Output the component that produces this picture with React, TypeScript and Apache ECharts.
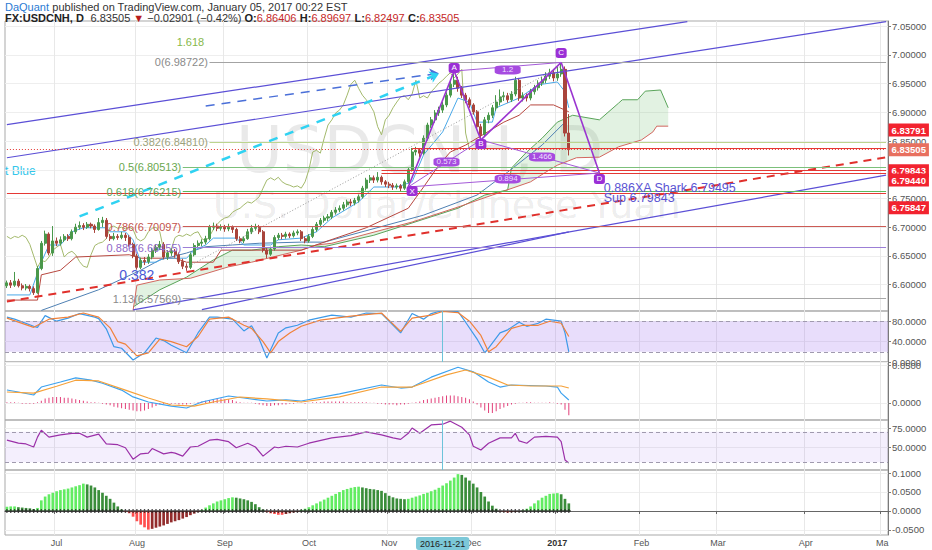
import React, { useEffect, useRef } from 'react';
import * as echarts from 'echarts';

// ---------------- categories (trading days) ----------------
const FIRST_TRADING_DAY = '2016-06-14';
const TRADING_DAY_COUNT = 231;
const CROSSHAIR_INDEX = 114; // 2016-11-21

function buildTradingDays(): string[] {
  const out: string[] = [];
  const d = new Date(FIRST_TRADING_DAY + 'T00:00:00Z');
  while (out.length < TRADING_DAY_COUNT) {
    const wd = d.getUTCDay();
    if (wd !== 0 && wd !== 6) out.push(d.toISOString().slice(0, 10));
    d.setUTCDate(d.getUTCDate() + 1);
  }
  return out;
}
const CATEGORIES = buildTradingDays();

const MONTH_TICK_INDEX = [13, 34, 57, 79, 100, 122, 144, 166, 186, 209, 229];
const MONTH_TICK_TEXT = ['Jul', 'Aug', 'Sep', 'Oct', 'Nov', 'Dec', '2017', 'Feb', 'Mar', 'Apr', 'Ma'];

const PRICE_TICKS = [6.6, 6.65, 6.7, 6.75, 6.8, 6.85, 6.9, 6.95, 7.0, 7.05];
const STOCH_TICKS = [0, 40, 80];
const MACD_TICKS = [0, 0.05];
const RSI_TICKS = [50, 75];
const MOM_TICKS = [-0.05, 0, 0.05, 0.1];

// ---------------- price data [open, close, low, high] ----------------
const OHLC: number[][] = [
[6.598,6.603,6.594,6.607],[6.603,6.599,6.594,6.608],[6.599,6.606,6.596,6.622],[6.606,6.598,6.595,6.610],[6.598,6.594,6.590,6.602],
[6.594,6.597,6.590,6.601],[6.597,6.593,6.588,6.600],[6.593,6.586,6.582,6.597],[6.586,6.628,6.584,6.632],[6.628,6.672,6.625,6.676],
[6.672,6.688,6.668,6.694],[6.688,6.655,6.651,6.691],[6.655,6.676,6.650,6.702],[6.676,6.672,6.667,6.682],[6.672,6.678,6.668,6.684],
[6.678,6.684,6.674,6.688],[6.684,6.680,6.676,6.688],[6.680,6.692,6.677,6.696],[6.692,6.700,6.688,6.706],[6.700,6.703,6.696,6.710],
[6.703,6.700,6.695,6.707],[6.700,6.705,6.697,6.709],[6.705,6.702,6.698,6.708],[6.702,6.696,6.690,6.705],[6.696,6.708,6.694,6.716],
[6.708,6.712,6.700,6.718],[6.712,6.684,6.680,6.716],[6.684,6.680,6.676,6.688],[6.680,6.684,6.677,6.690],[6.684,6.682,6.678,6.688],
[6.682,6.686,6.679,6.692],[6.686,6.682,6.676,6.690],[6.682,6.670,6.666,6.686],[6.670,6.650,6.646,6.673],[6.650,6.630,6.626,6.654],
[6.630,6.642,6.627,6.647],[6.642,6.640,6.634,6.648],[6.640,6.648,6.636,6.653],[6.648,6.660,6.644,6.664],[6.660,6.665,6.655,6.670],
[6.665,6.670,6.660,6.676],[6.670,6.648,6.644,6.674],[6.648,6.655,6.643,6.660],[6.655,6.658,6.650,6.663],[6.658,6.652,6.647,6.662],
[6.652,6.640,6.636,6.656],[6.640,6.632,6.627,6.645],[6.632,6.630,6.624,6.637],[6.630,6.652,6.627,6.656],[6.652,6.668,6.649,6.672],
[6.668,6.672,6.664,6.677],[6.672,6.674,6.667,6.679],[6.674,6.680,6.670,6.685],[6.680,6.700,6.677,6.704],[6.700,6.702,6.695,6.708],
[6.702,6.698,6.693,6.706],[6.698,6.700,6.694,6.705],[6.700,6.697,6.692,6.704],[6.697,6.700,6.693,6.706],[6.700,6.696,6.690,6.703],
[6.696,6.680,6.676,6.699],[6.680,6.676,6.672,6.684],[6.676,6.680,6.672,6.684],[6.680,6.692,6.678,6.697],[6.692,6.698,6.688,6.704],
[6.698,6.700,6.694,6.706],[6.700,6.692,6.688,6.704],[6.692,6.660,6.656,6.695],[6.660,6.653,6.646,6.664],[6.653,6.662,6.650,6.666],
[6.662,6.682,6.659,6.686],[6.682,6.686,6.678,6.690],[6.686,6.684,6.679,6.690],[6.684,6.688,6.680,6.692],[6.688,6.685,6.681,6.691],
[6.685,6.690,6.682,6.694],[6.690,6.692,6.686,6.696],[6.692,6.680,6.676,6.695],[6.680,6.676,6.672,6.684],[6.676,6.684,6.673,6.688],
[6.684,6.696,6.681,6.700],[6.696,6.705,6.692,6.709],[6.705,6.712,6.701,6.716],[6.712,6.716,6.708,6.720],[6.716,6.718,6.711,6.723],
[6.718,6.726,6.714,6.730],[6.726,6.730,6.722,6.735],[6.730,6.733,6.726,6.738],[6.733,6.739,6.729,6.744],[6.739,6.744,6.735,6.748],
[6.744,6.742,6.737,6.749],[6.742,6.747,6.738,6.751],[6.747,6.753,6.743,6.757],[6.753,6.768,6.750,6.772],[6.768,6.782,6.764,6.786],
[6.782,6.786,6.777,6.791],[6.786,6.782,6.777,6.790],[6.782,6.787,6.778,6.796],[6.787,6.779,6.774,6.790],[6.779,6.775,6.770,6.782],
[6.775,6.773,6.768,6.779],[6.773,6.770,6.765,6.777],[6.770,6.772,6.766,6.776],[6.772,6.768,6.762,6.775],[6.768,6.779,6.765,6.783],
[6.779,6.800,6.776,6.804],[6.800,6.831,6.797,6.838],[6.831,6.834,6.825,6.840],[6.834,6.829,6.822,6.838],[6.829,6.855,6.826,6.860],
[6.855,6.878,6.851,6.882],[6.878,6.887,6.873,6.892],[6.887,6.899,6.882,6.904],[6.899,6.904,6.894,6.910],[6.904,6.913,6.899,6.918],
[6.913,6.930,6.909,6.935],[6.930,6.949,6.926,6.955],[6.949,6.956,6.944,6.968],[6.956,6.942,6.936,6.962],[6.942,6.930,6.925,6.946],
[6.930,6.922,6.916,6.934],[6.922,6.913,6.908,6.926],[6.913,6.901,6.896,6.916],[6.901,6.875,6.870,6.904],[6.875,6.861,6.853,6.880],
[6.861,6.887,6.857,6.892],[6.887,6.895,6.881,6.900],[6.895,6.908,6.890,6.913],[6.908,6.918,6.903,6.930],[6.918,6.927,6.912,6.940],
[6.927,6.929,6.920,6.936],[6.929,6.922,6.917,6.934],[6.922,6.932,6.918,6.937],[6.932,6.956,6.928,6.962],[6.956,6.925,6.920,6.960],
[6.925,6.929,6.919,6.935],[6.929,6.925,6.919,6.933],[6.925,6.936,6.921,6.941],[6.936,6.943,6.931,6.948],[6.943,6.951,6.938,6.956],
[6.951,6.956,6.946,6.962],[6.956,6.963,6.951,6.970],[6.963,6.969,6.958,6.976],[6.969,6.960,6.954,6.975],[6.960,6.967,6.955,6.980],
[6.967,6.975,6.962,6.987],[6.975,6.864,6.858,6.980],[6.86406,6.83505,6.82497,6.89697],
];

// ---------------- overlays on price pane: [barIndex, price] ----------------
const TENKAN = [[0,6.582],[6,6.582],[9,6.639],[11,6.669],[14,6.669],[17,6.692],[20,6.699],[26,6.699],[27,6.692],[31,6.692],[33,6.678],[35,6.639],[39,6.639],[41,6.646],[47,6.646],[49,6.660],[52,6.669],[54,6.681],[60,6.681],[62,6.669],[69,6.669],[71,6.678],[77,6.681],[81,6.692],[85,6.716],[92,6.744],[96,6.770],[102,6.770],[106,6.779],[109,6.826],[114,6.866],[118,6.925],[121,6.918],[123,6.883],[127,6.883],[128,6.908],[134,6.925],[139,6.948],[144,6.953],[146,6.936],[147,6.908]];
const KIJUN = [[0,6.573],[8,6.573],[9,6.617],[14,6.625],[18,6.648],[32,6.652],[35,6.646],[44,6.646],[47,6.639],[54,6.639],[56,6.660],[77,6.660],[83,6.674],[94,6.699],[105,6.733],[109,6.770],[113,6.808],[116,6.831],[120,6.843],[123,6.855],[130,6.883],[134,6.895],[137,6.913],[143,6.913],[147,6.901]];
const SENKOU_A = [[33,6.561],[40,6.591],[47,6.613],[54,6.643],[59,6.660],[64,6.660],[71,6.666],[77,6.669],[83,6.666],[96,6.686],[118,6.733],[125,6.756],[131,6.765],[132,6.803],[136,6.831],[140,6.855],[144,6.883],[148,6.895],[155,6.887],[160,6.916],[161,6.922],[165,6.922],[167,6.937],[171,6.939],[173,6.908]];
const SENKOU_B = [[33,6.555],[34,6.599],[40,6.608],[48,6.611],[58,6.631],[64,6.639],[72,6.652],[77,6.660],[81,6.669],[85,6.672],[106,6.709],[118,6.735],[127,6.756],[137,6.779],[141,6.796],[144,6.808],[149,6.821],[155,6.822],[160,6.840],[166,6.852],[169,6.866],[170,6.876],[173,6.876]];
const MA_LINE = [[9,6.555],[24,6.591],[35,6.625],[40,6.643],[47,6.655],[52,6.666],[59,6.669],[66,6.672],[77,6.674],[83,6.674],[109,6.721],[123,6.756],[131,6.796],[140,6.843],[146,6.883]];
const CHIKOU_SHIFT = 26;

// ---------------- indicator panes: [barIndex, value] ----------------
const STOCH_K = [[0,88],[2,84],[7,70],[8,68],[10,91],[13,80],[16,86],[19,95],[23,88],[24,85],[26,65],[28,30],[30,27],[33,4],[36,18],[39,47],[41,42],[43,33],[47,18],[50,57],[53,88],[55,88],[59,84],[62,61],[64,71],[66,45],[68,8],[71,57],[73,67],[76,72],[79,82],[85,92],[90,88],[94,96],[98,95],[103,57],[106,95],[109,84],[111,95],[113,99],[118,99],[120,78],[123,45],[125,18],[126,27],[129,57],[131,63],[134,78],[136,70],[139,76],[141,84],[145,80],[146,57],[147,20]];
const STOCH_D = [[0,86],[7,68],[11,84],[16,88],[20,96],[24,88],[27,67],[29,40],[31,35],[34,12],[37,18],[40,45],[43,40],[47,30],[50,50],[53,84],[58,88],[62,72],[64,66],[67,40],[69,18],[71,40],[74,57],[77,70],[82,82],[90,90],[98,96],[103,60],[106,86],[111,92],[114,99],[118,97],[121,80],[124,52],[126,20],[128,30],[132,66],[135,72],[139,72],[142,80],[145,76],[147,50]];
const MACD_LINE = [[0,0.0171],[3,0.0145],[7,0.0105],[9,0.021],[14,0.0276],[18,0.033],[22,0.030],[25,0.026],[30,0.017],[33,0.008],[37,0.0013],[43,-0.004],[47,-0.0066],[51,0.0013],[58,0.0092],[62,0.0066],[68,0.0026],[73,0.004],[77,0.0026],[87,0.012],[98,0.0237],[103,0.0197],[106,0.021],[111,0.034],[118,0.047],[122,0.041],[126,0.0276],[129,0.021],[132,0.0237],[141,0.0224],[144,0.021],[145,0.013],[147,0.004]];
const MACD_SIGNAL = [[0,0.0145],[7,0.013],[13,0.022],[18,0.030],[24,0.029],[31,0.017],[37,0.0066],[43,-0.0026],[49,-0.004],[54,0.0013],[61,0.0079],[68,0.0053],[77,0.0013],[87,0.008],[98,0.021],[106,0.021],[115,0.037],[120,0.0434],[126,0.034],[131,0.0237],[137,0.0224],[145,0.0224],[147,0.0197]];
const MACD_HIST_MILLI = [1,1,1,0.3,-1,-1,-1,-1,1,3, 6,7,8,8,8,7,7,6,5,4, 3,2,1,1,0.3,-1,-2,-3,-5,-6, -7,-8,-9,-10,-11,-11,-10,-8,-6,-4, -2,-1,-1,-1,-1,-2,-2,-2,-1,0.3, 1,2,3,4,5,6,6,5,5,4, 2,1,0.3,0.3,0.3,-1,-2,-3,-4,-4, -3,-3,-2,-2,-1,-1,0.3,0.3,-1,0.3, 1,1,1,2,2,2,2,2,2,1, 1,1,1,1,1,0.3,0.3,-1,-1,-2, -2,-2,-3,-2,-2,-1,0.3,1,2,4, 5,6,7,8,9,10,10,10,9,8, 7,5,2,-2,-6,-10,-13,-13,-11,-8, -6,-4,-2,-1,0.3,0.3,1,1,0.3,0.3, 0.3,0.3,1,0.3,-1,-2,-9,-16];
const RSI_LINE = [[0,59],[3,55],[5,54],[7,50],[8,63],[9,72],[11,63],[14,66],[17,68],[19,68],[21,63],[24,67],[26,54],[29,53],[31,49],[33,34],[35,41],[37,42],[38,48],[41,41],[43,43],[44,42],[46,38],[48,50],[50,51],[53,59],[55,60],[58,57],[60,49],[63,55],[65,50],[67,38],[70,50],[71,49],[73,51],[76,50],[79,55],[85,62],[90,65],[94,70],[98,66],[101,62],[103,60],[105,68],[106,75],[108,68],[111,79],[114,80],[116,84],[119,76],[121,66],[122,51],[124,46],[126,55],[129,62],[132,62],[133,68],[134,58],[136,55],[138,63],[141,64],[144,63],[145,57],[146,33],[147,29]];
const MOMENTUM_MILLI = [11,12,12,10,9,8,7,5,8,28, 38,44,48,52,55,57,59,62,65,68, 72,70,67,62,55,48,40,32,22,12, 4,-2,-6,-15,-27,-36,-43,-49,-47,-44, -41,-38,-34,-30,-27,-24,-20,-16,-11,-7, -3,3,9,15,20,25,28,31,34,36, 35,33,31,28,24,18,10,4,-3,-6, -8,-10,-10,-8,-6,-4,-2,3,6,10, 15,20,25,30,35,40,45,50,55,58, 61,63,64,62,60,58,57,55,53,47, 40,36,33,32,31,32,35,38,41,45, 48,52,56,61,67,73,80,88,97,95, 88,80,72,62,50,38,25,14,6,-1, -2,-4,-3,-2,-1,2,6,12,20,28, 35,40,45,46,47,44,32,20];

// ---------------- drawings (data space) ----------------
const CHANNEL_LINES = [[0,6.8786,178,7.058],[0,6.821,230,7.058],[33,6.556,230,6.7906],[51,6.5565,147,6.6918]];
const RED_TREND = [0,6.5704,230,6.8218];
const CYAN_ARROW = [19,6.7188,113,6.9671];
const BLUE_ARROW = [52,6.9111,113,6.9681];
const DOTTED_TREND = [47,6.6301,145,6.9805];
const FIB_RATIOS = ['0', '0.382', '0.5', '0.618', '0.786', '0.886', '1.13'];
const FIB_PRICES = [6.98722, 6.84810, 6.80513, 6.76215, 6.70097, 6.66455, 6.57569];
const FIB_START = [53, 53, 46, 46, 46, 46, 46];
const FIB_LINE_COLORS = ['#a3a3a3', '#bcd48e', '#7cc07a', '#5cb85c', '#cc5b55', '#9c7fd6', '#a8a8a8'];
const FIB_TEXT_COLORS = ['#8a8a8a', '#9ca27c', '#6aa84f', '#5aa75a', '#c4534c', '#9068c8', '#8a8a8a'];
const LEVEL_PRICES = [6.83791, 6.83505, 6.79843, 6.79440, 6.75847];
const LEVEL_START = [106, 0, 98, 98, 0];
const LEVEL_TAG_SHIFT = [-18, 0, 0, 7, 14];
const PATTERN_POINTS: Record<string, number[]> = { X: [105, 6.770], A: [117, 6.972], B: [124, 6.852], C: [145, 6.987], D: [155, 6.7944] };
const PATTERN_TAGS: [string, number, number][] = [['X',106,6.763],['A',117,6.9774],['B',124,6.845],['C',145,7.0035],['D',155,6.784]];
const RATIO_TAGS: [string, number, number][] = [['0.573',115,6.8136],['1.2',131,6.9739],['1.466',140,6.8223],['0.894',131,6.784]];

const MONTH_SET = new Set(MONTH_TICK_INDEX);
const FONT = 'Liberation Sans';

function yAxis(k: number, min: number, max: number, ticks: number[], digits: number) {
  return {
    type: 'value', gridIndex: k, position: 'right', min, max,
    axisLine: { show: true, lineStyle: { color: '#7a7a7a' } },
    axisTick: { show: true, length: 3, customValues: ticks, lineStyle: { color: '#7a7a7a' } },
    axisLabel: { show: true, customValues: ticks, formatter: (v: number) => v.toFixed(digits), fontSize: 9.5, color: '#555', margin: 4, fontFamily: FONT },
    splitLine: { show: true, lineStyle: { color: '#eeeeee' } },
  };
}

function seg(a: number[], b: number[], lineStyle: any, endSymbol?: string) {
  return [
    { coord: a, lineStyle, symbol: 'none' },
    { coord: b, symbol: endSymbol || 'none', symbolSize: endSymbol ? 9 : 0 },
  ];
}

function textPoint(i: number, p: number, text: string, label: any) {
  return {
    coord: [i, p], symbol: 'rect', symbolSize: 1, itemStyle: { color: 'rgba(0,0,0,0)' },
    label: { show: true, formatter: text, fontFamily: FONT, ...label },
  };
}

function buildOption() {
  const gridBase = { left: 5, right: 44, show: true, borderColor: '#a9a9a9', borderWidth: 1, containLabel: false, outerBoundsMode: 'none' };
  const grids = [
    { ...gridBase, top: 21, height: 290 },
    { ...gridBase, top: 311, height: 51 },
    { ...gridBase, top: 362, height: 58 },
    { ...gridBase, top: 420, height: 50 },
    { ...gridBase, top: 470, height: 65 },
  ];
  const isMonth = (i: number) => MONTH_SET.has(i);
  const xAxes = grids.map((_, k) => ({
    type: 'category', gridIndex: k, data: CATEGORIES, boundaryGap: true,
    axisLine: { show: k === 4, lineStyle: { color: '#666' } },
    axisTick: { show: k === 4, interval: isMonth, length: 3, lineStyle: { color: '#666' } },
    axisLabel: {
      show: k === 4, interval: isMonth, fontSize: 9, color: '#555', margin: 3, fontFamily: FONT,
      formatter: (_v: string, i: number) => {
        const t = MONTH_TICK_TEXT[MONTH_TICK_INDEX.indexOf(i)] || '';
        return t === '2017' ? '{b|2017}' : t;
      },
      rich: { b: { fontWeight: 'bold', fontSize: 9, color: '#333', fontFamily: FONT } },
    },
    splitLine: { show: true, interval: isMonth, lineStyle: { color: '#e8e8e8' } },
    axisPointer: k === 4 ? {
      show: true, type: 'line', value: CROSSHAIR_INDEX, status: 'show', triggerTooltip: false, triggerOn: 'none',
      lineStyle: { color: '#5bc0de', width: 1, opacity: 0 },
      label: { show: true, backgroundColor: '#7cc8d8', color: '#222', fontSize: 9, padding: [2, 4], margin: 2, fontFamily: FONT, formatter: () => CATEGORIES[CROSSHAIR_INDEX] },
      handle: { show: false },
    } : { show: false },
  }));
  const yAxes = [
    yAxis(0, 6.554, 7.0592, PRICE_TICKS, 5),
    yAxis(1, 0, 100, STOCH_TICKS, 4),
    yAxis(2, -0.02237, 0.05395, MACD_TICKS, 4),
    yAxis(3, 19.74, 85.53, RSI_TICKS, 4),
    yAxis(4, -0.0632, 0.1079, MOM_TICKS, 4),
  ];

  // ---- markLines on the price pane ----
  const channelStyle = { color: '#5b4fd6', width: 1.2, type: 'solid' };
  const lines: any[] = [];
  CHANNEL_LINES.forEach((l) => lines.push(seg([l[0], l[1]], [l[2], l[3]], channelStyle)));
  lines.push(seg([RED_TREND[0], RED_TREND[1]], [RED_TREND[2], RED_TREND[3]], { color: '#e0302c', width: 2, type: [8, 6] }));
  lines.push(seg([DOTTED_TREND[0], DOTTED_TREND[1]], [DOTTED_TREND[2], DOTTED_TREND[3]], { color: '#9a9a9a', width: 1, type: [1, 2] }));
  lines.push(seg([BLUE_ARROW[0], BLUE_ARROW[1]], [BLUE_ARROW[2], BLUE_ARROW[3]], { color: '#4a6fd8', width: 1.5, type: [9, 7] }, 'arrow'));
  lines.push(seg([CYAN_ARROW[0], CYAN_ARROW[1]], [CYAN_ARROW[2], CYAN_ARROW[3]], { color: '#2fd2f2', width: 2.5, type: [9, 8] }, 'arrow'));
  FIB_PRICES.forEach((p, k) => lines.push(seg([FIB_START[k], p], [230, p], { color: FIB_LINE_COLORS[k], width: 1, type: 'solid' })));
  LEVEL_PRICES.forEach((p, k) => lines.push(seg([LEVEL_START[k], p], [230, p], { color: '#e53935', width: 1, type: k === 1 ? [1, 2] : 'solid' })));
  const P = PATTERN_POINTS;
  const legStyle = { color: '#9a34d0', width: 1.6, type: 'solid' };
  const diagStyle = { color: '#a45ad8', width: 1, type: 'solid' };
  [['X','A'],['A','B'],['B','C'],['C','D']].forEach(([a, b]) => lines.push(seg(P[a], P[b], legStyle)));
  [['X','B'],['A','C'],['B','D'],['X','D']].forEach(([a, b]) => lines.push(seg(P[a], P[b], diagStyle)));

  // ---- markPoints (texts) ----
  const points: any[] = [];
  FIB_PRICES.forEach((p, k) => points.push(textPoint(FIB_START[k], p, `${FIB_RATIOS[k]}(${p.toFixed(5)})`, { position: 'left', distance: 1, color: FIB_TEXT_COLORS[k], fontSize: 11 })));
  points.push(textPoint(48, 7.0226, '1.618', { position: 'inside', color: '#86b84a', fontSize: 11 }));
  points.push(textPoint(34, 6.6167, '0.382', { position: 'inside', color: '#4b58d6', fontSize: 14 }));
  points.push(textPoint(156, 6.7683, '0.886XA Shark 6.79495', { position: 'right', distance: 0, color: '#5a53d3', fontSize: 12.5 }));
  points.push(textPoint(156, 6.7509, 'Sup 6.79843', { position: 'right', distance: 0, color: '#5a53d3', fontSize: 12.5 }));
  LEVEL_PRICES.forEach((p, k) => points.push(textPoint(230, p, p.toFixed(5), {
    position: 'right', distance: 2, color: '#fff', backgroundColor: k === 1 ? '#e8705f' : '#f2232f',
    padding: [2, 3, 1, 3], fontSize: 9.5, fontWeight: 'bold', offset: [0, LEVEL_TAG_SHIFT[k]],
  })));
  PATTERN_TAGS.forEach(([t, i, p]) => points.push({
    coord: [i, p], symbol: 'roundRect', symbolSize: [11, 10], itemStyle: { color: '#9b2fd6' },
    label: { show: true, position: 'inside', formatter: t, color: '#fff', fontSize: 8, fontFamily: FONT },
  }));
  RATIO_TAGS.forEach(([t, i, p]) => points.push({
    coord: [i, p], symbol: 'roundRect', symbolSize: [26, 9], itemStyle: { color: '#a64be0' },
    label: { show: true, position: 'inside', formatter: t, color: '#efe0ff', fontSize: 8, fontFamily: FONT },
  }));

  const chikou = OHLC.map((d, i) => [i - CHIKOU_SHIFT, d[1]]).filter((d) => d[0] >= 0);
  const lineS = (data: any, color: string, x: number, width = 1, extra: any = {}) => ({
    type: 'line', xAxisIndex: x, yAxisIndex: x, data, symbol: 'none', showSymbol: false, silent: true,
    lineStyle: { color, width }, clip: true, ...extra,
  });

  const momData = MOMENTUM_MILLI.map((v, i) => {
    const prev = i > 0 ? MOMENTUM_MILLI[i - 1] : v;
    const color = v >= 0 ? (v >= prev ? '#62ec62' : '#3a8d3a') : (v <= prev ? '#ff4f4f' : '#922c2c');
    return { value: v / 1000, itemStyle: { color } };
  });

  const bandLine = (y: number) => ({ yAxis: y, lineStyle: { type: [4, 3], color: '#a09aae', width: 1 } });
  const crossLine = { xAxis: CROSSHAIR_INDEX, lineStyle: { type: 'solid', color: '#6cc3da', width: 1 } };

  return {
    animation: false,
    backgroundColor: '#ffffff',
    textStyle: { fontFamily: FONT },
    grid: grids,
    xAxis: xAxes,
    yAxis: yAxes,
    graphic: [
      { type: 'text', left: 5, top: 1, silent: true, style: { text: '{a|DaQuant} {b|published on TradingView.com, January 05, 2017 00:22 EST}', rich: { a: { fill: '#2a7bd3', fontSize: 11, fontFamily: FONT }, b: { fill: '#333', fontSize: 11, fontFamily: FONT } } } },
      { type: 'text', left: 5, top: 12, silent: true, style: { text: '{k|FX:USDCNH, D}  {g|6.83505 }{r|▼}{g| \u22120.02901 (\u22120.42%) }{k|O:}{v|6.86406} {k|H:}{v|6.89697} {k|L:}{v|6.82497} {k|C:}{v|6.83505}', rich: { k: { fill: '#222', fontWeight: 'bold', fontSize: 11, fontFamily: FONT }, g: { fill: '#333', fontSize: 11, fontFamily: FONT }, r: { fill: '#b71c1c', fontSize: 11, fontFamily: FONT }, v: { fill: '#c62828', fontSize: 11, fontFamily: FONT } } } },
      { type: 'text', x: 236, y: 150, z: 0, silent: true, style: { text: 'USDCNH, D', fontSize: 64, fontFamily: 'DejaVu Sans', fill: 'rgba(0,0,0,0.085)', verticalAlign: 'middle', align: 'left' } },
      { type: 'text', x: 213, y: 205, z: 0, silent: true, style: { text: 'U.S. Dollar/Chinese Yuan', fontSize: 38, fontFamily: 'DejaVu Sans', fill: 'rgba(0,0,0,0.085)', verticalAlign: 'middle', align: 'left' } },
      { type: 'text', x: 5, y: 171, silent: true, style: { text: 't Blue', fontSize: 12, fontFamily: FONT, fill: '#33c6ea', verticalAlign: 'middle', align: 'left' } },
    ],
    series: [
      {
        type: 'custom', xAxisIndex: 0, yAxisIndex: 0, data: [[0, 6.7]], silent: true, z: 1,
        renderItem: (_params: any, api: any) => {
          const pts = SENKOU_A.map((p) => api.coord(p)).concat(SENKOU_B.slice().reverse().map((p) => api.coord(p)));
          return { type: 'polygon', shape: { points: pts }, style: { fill: 'rgba(110,190,110,0.2)' } };
        },
      },
      lineS(SENKOU_A, '#5aa45a', 0),
      lineS(SENKOU_B, '#d2675f', 0),
      lineS(chikou, '#a3b96c', 0),
      lineS(MA_LINE, '#4f80b3', 0),
      lineS(KIJUN, '#b7473f', 0),
      lineS(TENKAN, '#4aa8e8', 0),
      {
        type: 'candlestick', xAxisIndex: 0, yAxisIndex: 0, data: OHLC, barWidth: '66%', silent: true, z: 3,
        itemStyle: { color: '#4a984b', color0: '#a9443b', borderColor: '#4a984b', borderColor0: '#a9443b', borderWidth: 1 },
        markLine: { silent: true, animation: false, symbol: ['none', 'none'], label: { show: false }, data: lines },
        markPoint: { silent: true, animation: false, data: points },
      },
      lineS(STOCH_K, '#3d9ae8', 1, 1.2, {
        markArea: { silent: true, itemStyle: { color: 'rgba(150,100,235,0.22)' }, data: [[{ yAxis: 20 }, { yAxis: 80 }]] },
        markLine: { silent: true, symbol: ['none', 'none'], label: { show: false }, data: [bandLine(20), bandLine(80), crossLine] },
      }),
      lineS(STOCH_D, '#f0823a', 1, 1.2),
      {
        type: 'bar', xAxisIndex: 2, yAxisIndex: 2, data: MACD_HIST_MILLI.map((v) => v / 1000), barWidth: 1, silent: true,
        itemStyle: { color: '#e2407a' },
      },
      lineS(MACD_LINE, '#3da2ef', 2, 1.2),
      lineS(MACD_SIGNAL, '#f5a13a', 2, 1.2),
      lineS(RSI_LINE, '#9b30a8', 3, 1.2, {
        markArea: { silent: true, itemStyle: { color: 'rgba(150,100,235,0.1)' }, data: [[{ yAxis: 30 }, { yAxis: 70 }]] },
        markLine: { silent: true, symbol: ['none', 'none'], label: { show: false }, data: [bandLine(30), bandLine(70), crossLine] },
      }),
      { type: 'bar', xAxisIndex: 4, yAxisIndex: 4, data: momData, barWidth: '70%', silent: true },
      {
        type: 'scatter', xAxisIndex: 4, yAxisIndex: 4, silent: true, z: 4,
        data: MOMENTUM_MILLI.map((_v, i) => [i, 0]),
        symbol: 'path://M2,0H4V2H6V4H4V6H2V4H0V2H2Z', symbolSize: 4, itemStyle: { color: '#222' },
      },
    ],
  };
}

export default function App() {
  const ref = useRef<HTMLDivElement>(null);
  useEffect(() => {
    document.body.style.margin = '0';
    const chart = echarts.init(ref.current as HTMLDivElement, null, { renderer: 'svg' });
    chart.setOption(buildOption() as any);
    return () => chart.dispose();
  }, []);
  return <div ref={ref} style={{ width: 932, height: 550 }} />;
}
